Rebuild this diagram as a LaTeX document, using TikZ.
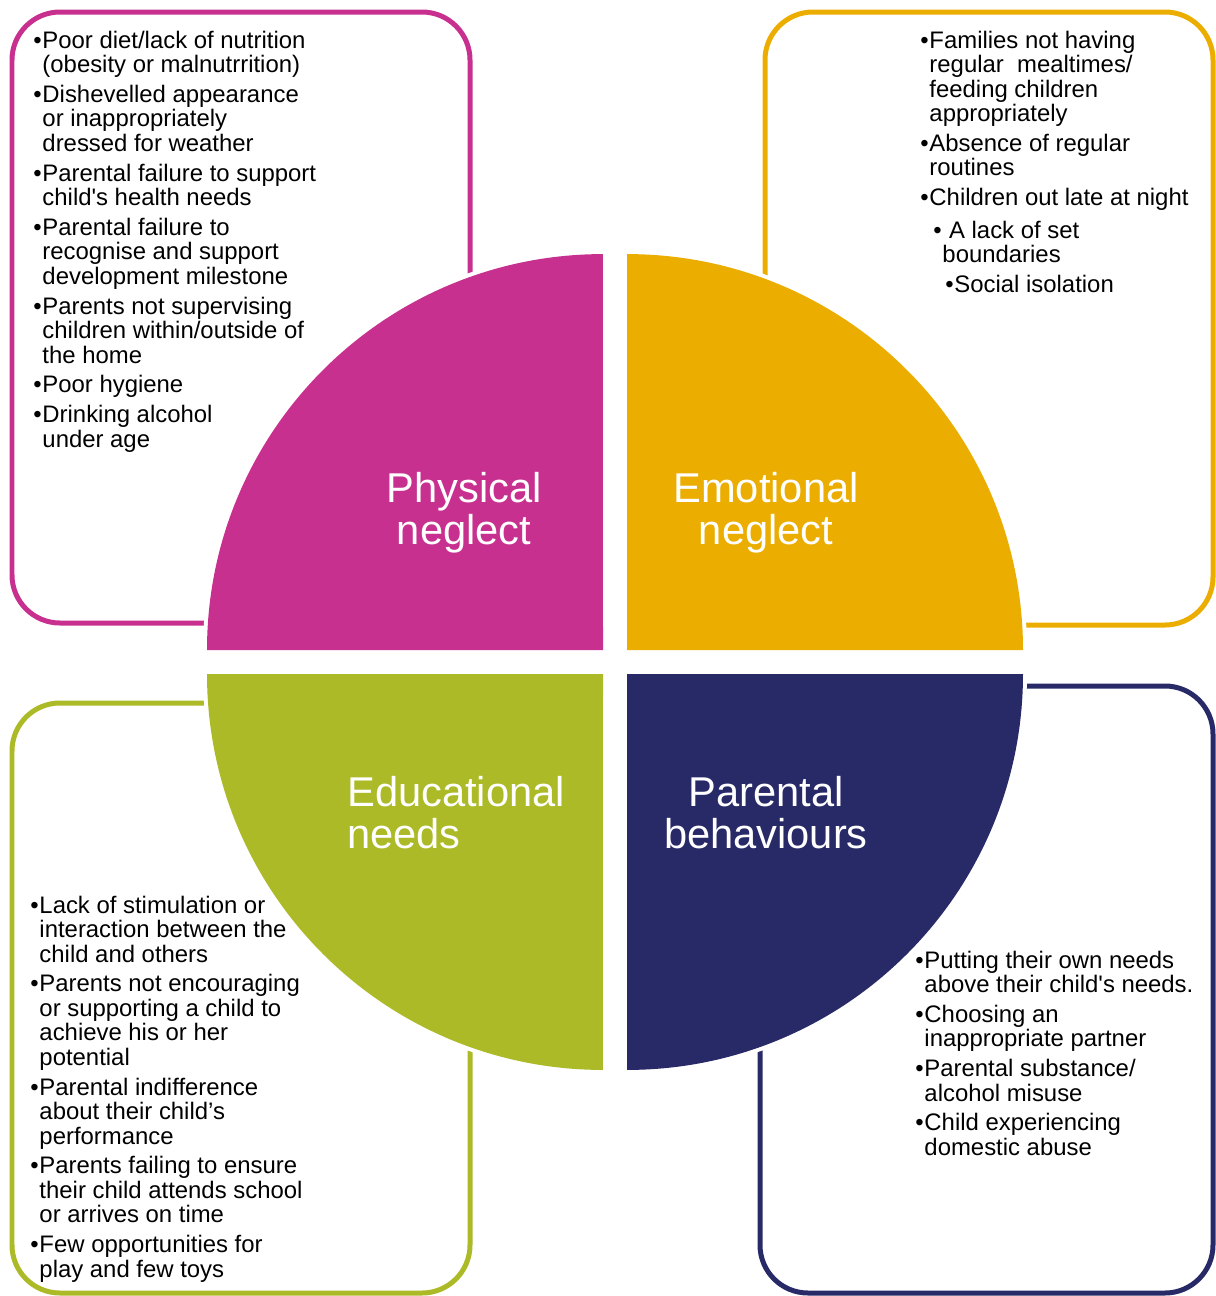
\documentclass[tikz,border=0pt]{standalone}
\usepackage{fontspec}
\setmainfont{Liberation Sans}
\usetikzlibrary{positioning}

\definecolor{physcol}{HTML}{C8308F}
\definecolor{emocol}{HTML}{EBAD00}
\definecolor{educol}{HTML}{ABBA26}
\definecolor{parcol}{HTML}{282967}

\newcommand{\listfont}{\fontsize{13.6}{13.95}\selectfont}
\newcommand{\titlefont}{\fontsize{23.7}{24.4}\selectfont}
% bullet item with hanging indent (optional extra indent)
\newcommand{\itm}[2][0pt]{\ifvmode\else\par\vspace{3pt}\fi
    \hangindent=\dimexpr#1+5.2pt\relax\hangafter=1\noindent\hspace*{#1}\makebox[5.2pt][l]{\textbullet}#2}
\newcommand{\lst}[1]{\parbox[t]{9cm}{#1}}

\begin{document}
\begin{tikzpicture}[
    x=0.02cm, y=-0.02cm,
    frame/.style={line width=1mm, rounded corners=0.96cm},
    quad/.style={preaction={draw=white, line width=1.6mm}},
    title/.style={text=white, font=\titlefont, inner sep=0pt, text width=6cm, anchor=base},
    list/.style={font=\listfont, inner sep=0pt, anchor=base west}
]
    \useasboundingbox (0,0) rectangle (1215,1296);

    % Frames
    \draw[frame, physcol] (12,12) rectangle (470,623);
    \draw[frame, emocol] (765,12) rectangle (1213,625);
    \draw[frame, educol] (12,703) rectangle (470,1293);
    \draw[frame, parcol] (760,686) rectangle (1213,1293);

    % Quadrants
    \fill[quad, physcol] (603,650) -- (207,650) arc[start angle=180, end angle=90, radius=7.92cm] -- cycle;
    \fill[quad, emocol] (627,650) -- (1023,650) arc[start angle=0, end angle=90, radius=7.92cm] -- cycle;
    \fill[quad, educol] (603,674) -- (207,674) arc[start angle=180, end angle=270, radius=7.92cm] -- cycle;
    \fill[quad, parcol] (627,674) -- (1023,674) arc[start angle=0, end angle=-90, radius=7.92cm] -- cycle;

    % Titles
    \node[title, align=center] (phys) at (464,502) {Physical\\neglect};
    \node[title, align=center] (emo) at (766,502) {Emotional\\neglect};
    \node[title, align=left, anchor=base west] (edu) at (347,806) {Educational\\needs};
    \node[title, align=center] (par) at (766,806) {Parental\\behaviours};

    % Lists
    \node[list] (physlist) at (33,48) {\lst{%
        \itm{Poor diet/lack of nutrition\\(obesity or malnutrrition)}
        \itm{Dishevelled appearance\\or inappropriately\\dressed for weather}
        \itm{Parental failure to support\\child\textquotesingle s health needs}
        \itm{Parental failure to\\recognise and support\\development milestone}
        \itm{Parents not supervising\\children within/outside of\\the home}
        \itm{Poor hygiene}
        \itm{Drinking alcohol\\under age}}};

    \node[list] (emolist) at (920,48) {\lst{%
        \itm{Families not having\\regular\ \ mealtimes/\\feeding children\\appropriately}
        \itm{Absence of regular\\routines}
        \itm{Children out late at night}\vspace{1.5pt}
        \itm[7.4pt]{ A lack of set\\boundaries}
        \itm[14.2pt]{Social isolation}}};

    \node[list] (edulist) at (30,913) {\lst{%
        \itm{Lack of stimulation or\\interaction between the\\child and others}
        \itm{Parents not encouraging\\or supporting a child to\\achieve his or her\\potential}
        \itm{Parental indifference\\about their child’s\\performance}
        \itm{Parents failing to ensure\\their child attends school\\or arrives on time}
        \itm{Few opportunities for\\play and few toys}}};

    \node[list] (parlist) at (915,968) {\lst{%
        \itm{Putting their own needs\\above their child\textquotesingle s needs.}
        \itm{Choosing an\\inappropriate partner}
        \itm{Parental substance/\\alcohol misuse}
        \itm{Child experiencing\\domestic abuse}}};

\end{tikzpicture}
\end{document}
